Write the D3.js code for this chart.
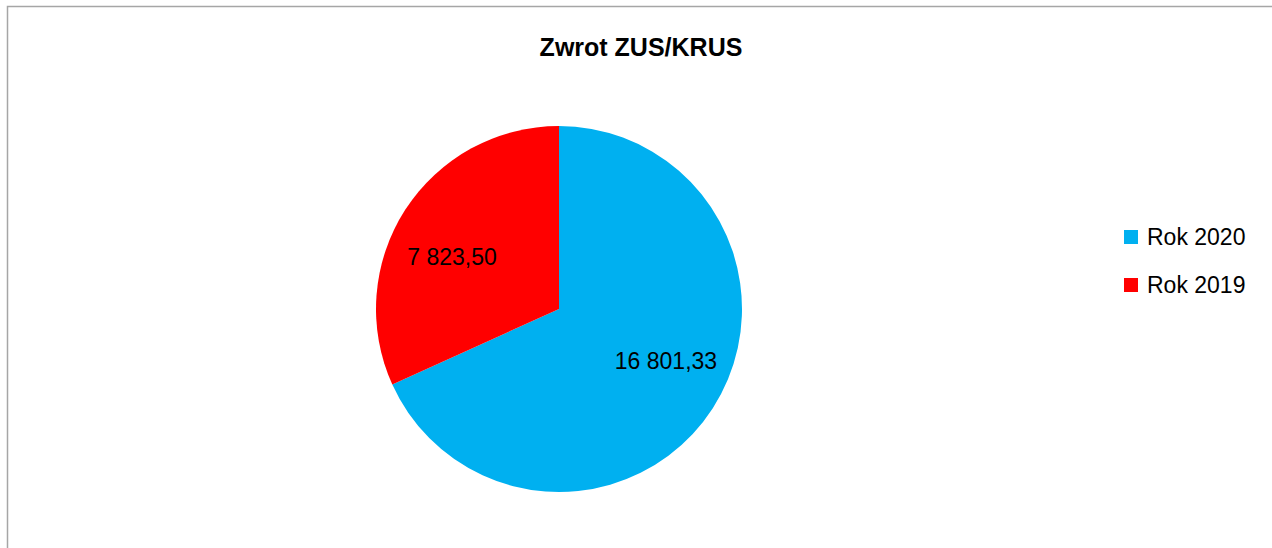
<!DOCTYPE html>
<html>
<head>
<meta charset="utf-8">
<script src="https://cdnjs.cloudflare.com/ajax/libs/d3/7.8.5/d3.min.js"></script>
<style>
  html, body { margin: 0; padding: 0; background: #fff; }
  svg { display: block; }
  text { font-family: "Liberation Sans", Arial, sans-serif; fill: #000; }
</style>
</head>
<body>
<div id="chart"></div>
<script>
var title = "Zwrot ZUS/KRUS";
var categories = ["Rok 2020", "Rok 2019"];
var values = [16801.33, 7823.50];
var colors = ["#00b0f0", "#ff0000"];

var W = 1272, H = 548;
var svg = d3.select("#chart").append("svg").attr("width", W).attr("height", H);

// chart frame (runs off the right and bottom edges)
svg.append("rect")
	.attr("x", 7.5).attr("y", 6.5)
	.attr("width", W + 20).attr("height", H + 20)
	.attr("fill", "#fff")
	.attr("stroke", "#a6a6a6")
	.attr("stroke-width", 1.5);

svg.append("text")
	.attr("x", 641).attr("y", 56)
	.attr("text-anchor", "middle")
	.style("font-size", "25px")
	.style("font-weight", "bold")
	.text(title);

var cx = 559, cy = 309, R = 183;
var data = categories.map(function(c, i){ return {name: c, value: values[i], color: colors[i]}; });

var pie = d3.pie().sort(null).value(function(d){ return d.value; });
var arc = d3.arc().innerRadius(0).outerRadius(R);
var labelArc = d3.arc().innerRadius(R * 0.65).outerRadius(R * 0.65);

var fmt = function(v){
	var s = v.toFixed(2).split(".");
	return s[0].replace(/\B(?=(\d{3})+(?!\d))/g, " ") + "," + s[1];
};

var g = svg.append("g").attr("transform", "translate(" + cx + "," + cy + ")");
var arcs = pie(data);

g.selectAll("path.slice").data(arcs).enter().append("path")
	.attr("class", "slice")
	.attr("d", arc)
	.attr("fill", function(d){ return d.data.color; });

// labels sit slightly counter-clockwise of the slice middle, as in the original
var shift = 0.12;
g.selectAll("text.lbl").data(arcs).enter().append("text")
	.attr("class", "lbl")
	.attr("transform", function(d){
		var c = labelArc.centroid({startAngle: d.startAngle - shift, endAngle: d.endAngle - shift});
		return "translate(" + c[0] + "," + c[1] + ")";
	})
	.attr("text-anchor", "middle")
	.attr("dy", "0.35em")
	.style("font-size", "23px")
	.text(function(d){ return fmt(d.data.value); });

// legend
var lg = svg.append("g").attr("transform", "translate(1124,230)");
var items = lg.selectAll("g").data(data).enter().append("g")
	.attr("transform", function(d, i){ return "translate(0," + (i * 48) + ")"; });
items.append("rect")
	.attr("width", 14).attr("height", 14)
	.attr("fill", function(d){ return d.color; });
items.append("text")
	.attr("x", 23).attr("y", 15)
	.style("font-size", "23px")
	.text(function(d){ return d.name; });
</script>
</body>
</html>
